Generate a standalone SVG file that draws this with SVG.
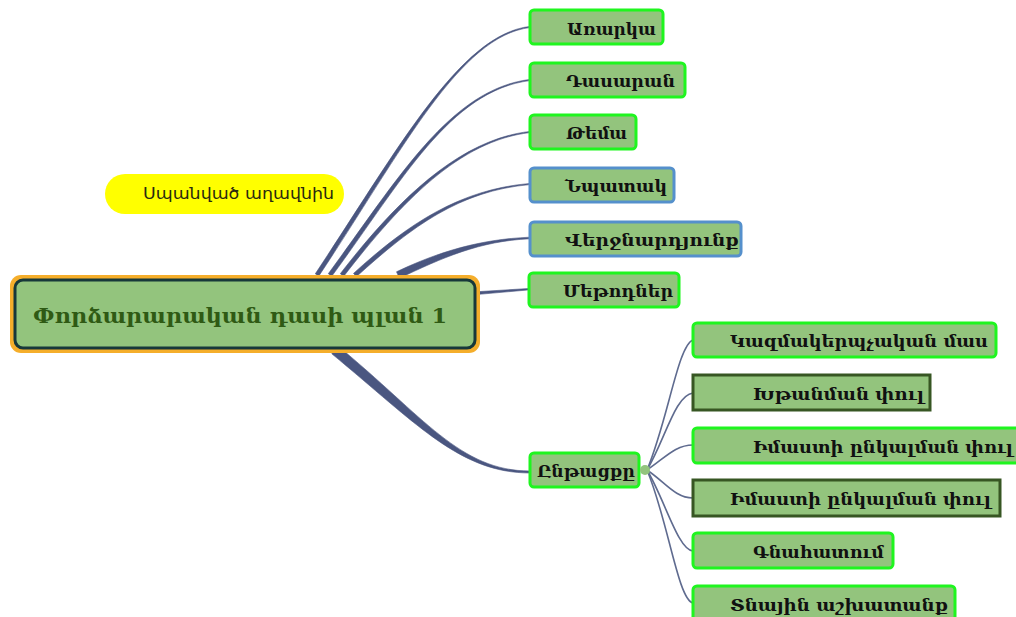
<svg xmlns="http://www.w3.org/2000/svg" width="1016" height="617" viewBox="0 0 1016 617">
<style>
.bg{fill:#ffffff}
.conn{fill:#4a5680;stroke:#4a5680;stroke-width:0.6}
.sub{fill:none;stroke:#5f6b8f;stroke-width:1.6}
.ng{fill:#93c47d;stroke:#1ff51f;stroke-width:3}
.nb{fill:#93c47d;stroke:#5590cc;stroke-width:3}
.nd{fill:#93c47d;stroke:#375623;stroke-width:3}
.t{font-family:"DejaVu Serif","DejaVu Sans",serif;font-weight:bold;font-size:16px;fill:#111111}
.ts{font-family:"DejaVu Serif","DejaVu Sans",serif;font-weight:bold;font-size:17px;fill:#111111}
</style>
<rect class="bg" x="0" y="0" width="1016" height="617"/>
<g id="connectors">
<path class="conn" d="M315.3,273.8 C398.3,148.8 460,34.4 530,26.4 L530,27.6 C460,35.6 401.7,151.2 318.7,276.2 Z"/>
<path class="conn" d="M328.3,273.7 C398.3,178.7 450,89.4 530,79.4 L530,80.6 C450,90.6 401.7,181.3 331.7,276.3 Z"/>
<path class="conn" d="M340.3,273.7 C398.3,198.7 460,139.4 530,131.4 L530,132.6 C460,140.6 401.7,201.3 343.7,276.3 Z"/>
<path class="conn" d="M353.5,273.4 C408.5,223.4 460,189.4 530,183.4 L530,184.6 C460,190.6 411.5,226.6 356.5,276.6 Z"/>
<path class="conn" d="M396.5,271.8 C438.5,251.8 480,239.2 530,237.2 L530,238.8 C480,240.8 441.5,258.2 399.5,278.2 Z"/>
<path class="conn" d="M476,291.8 L530,288.4 L530,289.8 L476,294.6 Z"/>
<path class="conn" d="M331.8,353.8 C416.8,423.8 460,473 530,473 L530,471 C460,471 423.2,416.2 338.2,346.2 Z"/>
<path class="sub" d="M647,470 C668,420 678,345 693,340"/>
<path class="sub" d="M647,470 C665,440 675,395 693,393"/>
<path class="sub" d="M647,470 C665,458 675,445 693,445"/>
<path class="sub" d="M647,470 C665,482 675,498 693,498"/>
<path class="sub" d="M647,470 C665,500 678,550 693,551"/>
<path class="sub" d="M647,470 C668,520 678,600 693,603"/>
</g>
<g id="root">
<rect x="10" y="275" width="470" height="78" rx="11" fill="#f5ae2b"/>
<rect x="15" y="280" width="460" height="68" rx="8" fill="#93c47d" stroke="#17383a" stroke-width="3"/>
<text x="240" y="323" text-anchor="middle" textLength="414" lengthAdjust="spacingAndGlyphs" style="font-family:'DejaVu Serif','DejaVu Sans',serif;font-weight:bold;font-size:21px;fill:#2f5a14">Փորձարարական դասի պլան 1</text>
</g>
<g id="callout">
<rect x="105" y="174" width="239" height="40" rx="20" fill="#ffff00"/>
<text x="143" y="199" textLength="191" lengthAdjust="spacingAndGlyphs" style="font-family:'DejaVu Sans',sans-serif;font-size:16px;fill:#2a2a10">Սպանված աղավնին</text>
</g>
<g id="n-arrka">
<rect class="ng" x="530" y="10" width="133" height="34" rx="4"/>
<text class="t" x="567" y="35" textLength="89" lengthAdjust="spacingAndGlyphs">Առարկա</text>
</g>
<g id="n-dasaran">
<rect class="ng" x="530" y="63" width="155" height="34" rx="4"/>
<text class="t" x="566" y="87" textLength="109" lengthAdjust="spacingAndGlyphs">Դասարան</text>
</g>
<g id="n-tema">
<rect class="ng" x="530" y="115" width="106" height="34" rx="4"/>
<text class="t" x="566" y="139" textLength="61" lengthAdjust="spacingAndGlyphs">Թեմա</text>
</g>
<g id="n-npatak">
<rect class="nb" x="530" y="168" width="144" height="34" rx="4"/>
<text class="t" x="565" y="192" textLength="102" lengthAdjust="spacingAndGlyphs">Նպատակ</text>
</g>
<g id="n-verjnardyunq">
<rect class="nb" x="530" y="222" width="211" height="34" rx="4"/>
<text class="t" x="565" y="246" textLength="174" lengthAdjust="spacingAndGlyphs">Վերջնարդյունք</text>
</g>
<g id="n-metodner">
<rect class="ng" x="529" y="273" width="150" height="34" rx="4"/>
<text class="t" x="563" y="297" textLength="110" lengthAdjust="spacingAndGlyphs">Մեթոդներ</text>
</g>
<g id="n-yntacqy">
<rect class="ng" x="530" y="453" width="109" height="34" rx="4"/>
<text class="t" x="537" y="477" textLength="98" lengthAdjust="spacingAndGlyphs">Ընթացքը</text>
<circle cx="645" cy="470" r="5" fill="#93c47d"/>
</g>
<g id="s-kazm">
<rect class="ng" x="693" y="323" width="303" height="34" rx="4"/>
<text class="ts" x="730" y="347" textLength="258" lengthAdjust="spacingAndGlyphs">Կազմակերպչական մաս</text>
</g>
<g id="s-xtanman">
<rect class="nd" x="693" y="375" width="237" height="35"/>
<text class="ts" x="753" y="400" textLength="171" lengthAdjust="spacingAndGlyphs">Խթանման փուլ</text>
</g>
<g id="s-imasti1">
<rect class="ng" x="693" y="428" width="330" height="35" rx="4"/>
<text class="ts" x="753" y="453" textLength="260" lengthAdjust="spacingAndGlyphs">Իմաստի ընկալման փուլ</text>
</g>
<g id="s-imasti2">
<rect class="nd" x="693" y="480" width="307" height="36"/>
<text class="ts" x="730" y="505" textLength="261" lengthAdjust="spacingAndGlyphs">Իմաստի ընկալման փուլ</text>
</g>
<g id="s-gnahatum">
<rect class="ng" x="693" y="533" width="200" height="35" rx="4"/>
<text class="ts" x="753" y="558" textLength="131" lengthAdjust="spacingAndGlyphs">Գնահատում</text>
</g>
<g id="s-tnayin">
<rect class="ng" x="693" y="586" width="262" height="40" rx="4"/>
<text class="ts" x="730" y="611" textLength="218" lengthAdjust="spacingAndGlyphs">Տնային աշխատանք</text>
</g>
</svg>
